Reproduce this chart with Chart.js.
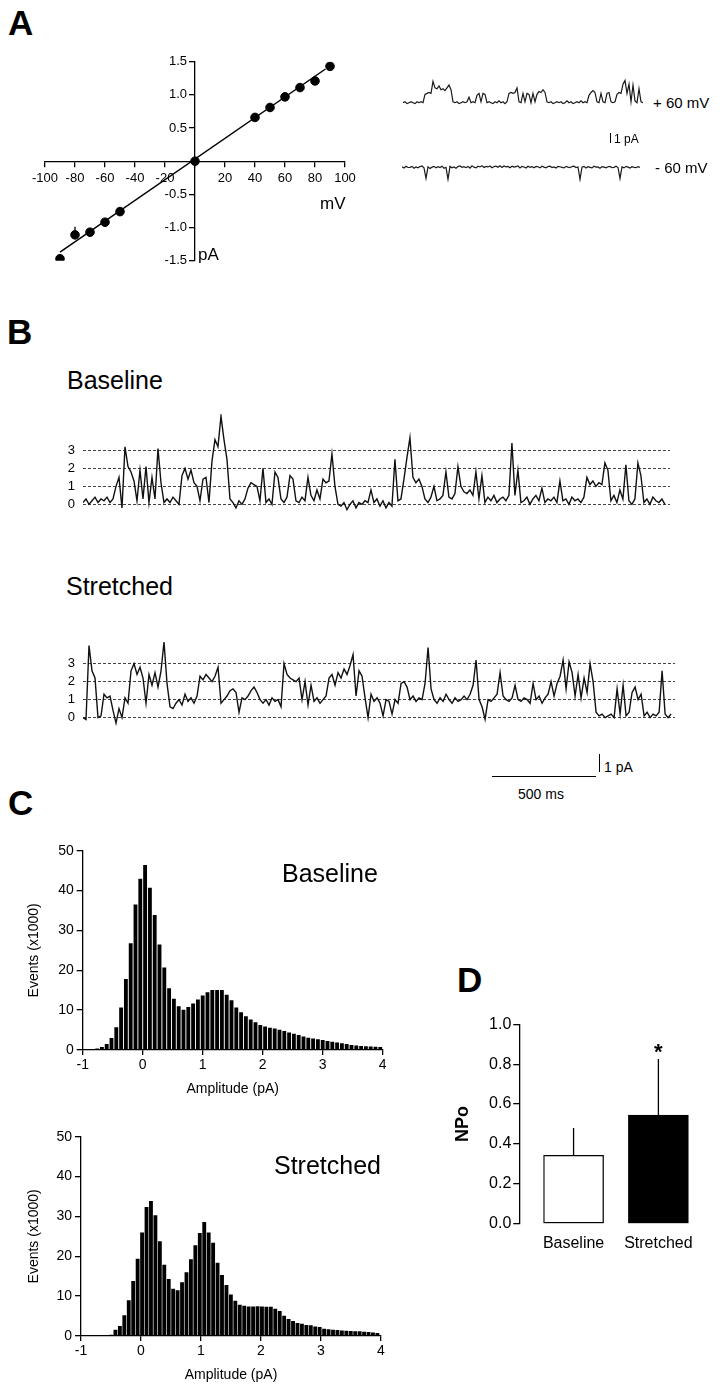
<!DOCTYPE html>
<html>
<head>
<meta charset="utf-8">
<script src="https://cdn.jsdelivr.net/npm/chart.js@4.4.1/dist/chart.umd.min.js"></script>
<style>
  body { margin: 0; background: #fff; }
  #page { position: relative; width: 723px; height: 1393px; overflow: hidden; background: #fff;
          font-family: "Liberation Sans", Arial, sans-serif; color: #000; }
  #page canvas { position: absolute; }
  .txt { position: absolute; line-height: 1; white-space: nowrap; }
  .letter { font-size: 35px; font-weight: bold; }
  .sbar { position: absolute; background: #000; }
</style>
</head>
<body>
<div id="page">
  <div class="txt letter" style="left:8px;top:5px">A</div>
  <div class="txt letter" style="left:7px;top:314px">B</div>
  <div class="txt letter" style="left:8px;top:785px">C</div>
  <div class="txt letter" style="left:457px;top:962px">D</div>

  <canvas id="iv" width="380" height="240" style="left:0;top:40px"></canvas>
  <div class="txt" style="left:320px;top:195px;font-size:17px">mV</div>
  <div class="txt" style="left:198px;top:246px;font-size:17px">pA</div>

  <canvas id="pos60" width="240" height="30" style="left:403px;top:78px"></canvas>
  <canvas id="neg60" width="238" height="21" style="left:402px;top:161px"></canvas>
  <div class="txt" style="left:653px;top:95px;font-size:15px">+ 60 mV</div>
  <div class="txt" style="left:655px;top:160px;font-size:15px">- 60 mV</div>
  <div class="sbar" style="left:610px;top:133px;width:1.3px;height:9.5px"></div>
  <div class="txt" style="left:614px;top:133px;font-size:12px">1 pA</div>

  <div class="txt" style="left:67px;top:368px;font-size:25px">Baseline</div>
  <canvas id="traceBase" width="640" height="108" style="left:40px;top:414px"></canvas>
  <div class="txt" style="left:66px;top:574px;font-size:25px">Stretched</div>
  <canvas id="traceStretch" width="640" height="108" style="left:40px;top:628px"></canvas>
  <div class="sbar" style="left:492px;top:776px;width:104px;height:1.3px"></div>
  <div class="sbar" style="left:598.5px;top:754px;width:1.3px;height:18px"></div>
  <div class="txt" style="left:604px;top:760px;font-size:14px">1 pA</div>
  <div class="txt" style="left:518px;top:787px;font-size:14px">500 ms</div>

  <canvas id="histBase" width="400" height="260" style="left:0;top:840px"></canvas>
  <div class="txt" style="left:282px;top:861px;font-size:25px">Baseline</div>
  <canvas id="histStretch" width="400" height="260" style="left:0;top:1126px"></canvas>
  <div class="txt" style="left:274px;top:1153px;font-size:25px">Stretched</div>

  <canvas id="npo" width="293" height="260" style="left:430px;top:1000px"></canvas>
  <div class="txt" style="left:654px;top:1041px;font-size:22px;font-weight:bold">*</div>
</div>
<script>
// ---- data ----
// A: current-voltage relation
const ivVoltage = [-90, -80, -70, -60, -50, 0, 40, 50, 60, 70, 80, 90];
const ivCurrent = [-1.47, -1.11, -1.07, -0.92, -0.76, 0, 0.66, 0.81, 0.97, 1.11, 1.21, 1.43];
const ivError = [0, 0.12, 0, 0, 0, 0, 0, 0, 0, 0, 0, 0];
const fitVoltage = [-90, 87];
const fitCurrent = [-1.37, 1.39];

// A: example single channel records (pA)
const tracePos60 = [0.0, 0.1, -0.1, 0.0, 0.1, 0.0, -0.1, 0.1, 0.0, 0.1, 0.0,
  0.9, 1.0, 1.1, 1.0, 2.3, 1.6, 1.5, 1.8, 1.4, 1.5, 1.3, 1.6, 1.9, 1.4, 0.1,
  0.0, 0.1, -0.1, 0.0, 0.1, 0.0, 0.1, 0.6, 0.0, 0.1, 0.0, 0.8,
  1.0, 0.1, 1.0, 0.9, 0.0,
  0.1, 0.0, -0.1, 0.1, 0.0, 0.2, 0.0, 0.1, -0.1, 0.1,
  1.0, 1.1, 1.0, 1.1, 1.6, 0.1, 0.0, 1.0, 0.1, 1.0, 0.9, 0.0, 1.0, 0.1, 0.9, 1.2, 1.1, 1.4, 1.1, 0.1,
  0.0, 0.1, -0.1, 0.0, 0.1, 0.0, 0.1, -0.1, 0.0, 0.2, 0.0, 0.1, -0.1, 0.0, 0.1, 0.0, 0.2, 0.0, 0.1, 0.0,
  0.8, 1.1, 1.3, 1.1, 0.1, 0.0, 1.0, 0.1, 0.0, 1.0, 1.1, 0.1, 0.0, 0.1, 0.9, 1.1, 1.0, 2.0, 2.4, 1.0,
  2.0, 0.1, 1.9, 0.2, 0.0, 1.5, 0.1, 0.0];
const traceNeg60 = [0.05, -0.08, 0.12, -0.02, 0.0, 0.1, -0.1, 0.04, -0.06, 0.08, 0.14, -0.05, -1.2,
  0.05, -0.12, 0.02, 0.1, -0.06, 0.06, -0.02, 0.12, -0.1, 0.0, -1.3,
  0.1, -0.05, 0.04, -0.1, 0.08, 0.14, 0.0, 0.06, -0.04, 0.1, -0.08, 0.16, 0.02, -0.06, 0.12, 0.04,
  0.18, -0.02, 0.1, 0.04, 0.14, -0.04, 0.08, 0.12, 0.0, 0.16, -0.02, 0.14, 0.06, 0.1, -0.04, 0.12,
  0.02, 0.08, 0.14, -0.06, 0.1, 0.04, -0.08, 0.12, 0.0, 0.08, -0.04, 0.1, 0.06, -0.06, 0.12, 0.02,
  -0.06, 0.08, 0.12, -0.02, 0.04, -0.08, 0.1, 0.06, 0.0, -0.06, 0.1, 0.02, -0.04, 0.08, 0.12, -0.02,
  0.04, -1.3, 0.02, 0.1, -0.08, 0.06, 0.0, -0.06, 0.12, 0.02, 0.04, -0.1, 0.08, 0.02, -0.06, 0.06,
  0.1, -0.04, 0.0, 0.12, -0.02, -1.2, 0.04, -0.06, 0.1, 0.02, -0.08, 0.06, 0.0, -0.04, 0.08, 0.0];

// B: long records, one sample every 3 px (pA)
const levelTicks = [0, 1, 2, 3];
const baselineTrace = [0.1, 0.3, 0.0, 0.2, 0.4, 0.1, 0.3, 0.2, 0.4, 0.1, 0.3,
  1.0, 1.5, -0.2, 3.2, 2.1, 1.8, 1.3, 0.2, 1.9, 0.3, 2.1, 0.1, 1.5, 0.3, 3.1, 1.2, 0.1,
  0.3, 0.1, 0.4, 0.2, 0.0,
  1.6, 2.0, 1.4, 1.9, 1.2,
  1.0, 0.2, 1.4, 1.5, 0.1,
  2.4, 3.6, 3.2, 4.9, 3.6, 2.5, 0.3,
  0.1, -0.2, 0.2, 0.0, 0.3,
  0.9, 1.2, 1.1, 1.0,
  0.2, 2.0, 0.1, 0.3, 0.0,
  1.8, 1.5,
  0.3, 0.1, 0.4,
  1.6, 1.4,
  0.2, 0.1, 0.4, 0.2,
  1.5,
  0.5, 0.2, 0.8, 0.3,
  1.4, 1.2, 1.3,
  2.8, 1.0, 0.0,
  -0.1, 0.1, -0.3, 0.0, 0.2, -0.2, 0.1, 0.0, 0.2, 0.1, 0.8, 0.1, 0.3, -0.1, 0.2, -0.2,
  0.1, -0.1,
  2.5, 0.2, 0.3,
  1.4, 2.6, 3.7, 1.5, 1.2, 1.4, 1.0,
  0.3, 0.1, 0.4, 1.0, 0.2, 0.3, 0.5, 1.8, 0.4, 0.3, 0.6, 2.1, 1.0,
  0.7, 0.6, 0.8, 0.5, 1.8, 0.3,
  1.6, 0.1, 0.4, 0.2, 0.5, 0.1, 0.3, 0.4, 0.2, 0.5,
  3.4, 0.5, 1.9, 0.1,
  0.2, 0.4, 0.0, 0.3, 0.5, 0.2, 0.9, 0.1, 0.3, 0.2, 0.4, 0.1, 1.3, 0.2, 0.3, 0.0, 0.4, 0.2, 0.3, 0.1, 0.4,
  1.5, 1.1, 1.3, 1.0, 1.2,
  1.1, 2.3, 1.9,
  0.2, 0.5, 0.1, 0.8, 0.3, 2.2,
  0.2, 0.0, 0.3,
  2.3, 1.6,
  0.1, 0.3, 0.0, 0.4, 0.2, 0.1, 0.3, 0.0];
const stretchedTrace = [0.0, -0.1, 4.0, 2.6, 2.2, 0.0, 0.1, 1.3, 1.1, 1.2, 0.4, -0.3, 0.5, 0.0,
  1.1, 0.8, 2.6, 3.0, 2.4, 2.8, 2.2, 0.8, 2.4, 1.8, 2.5, 1.7, 2.6, 4.2, 1.9, 0.6, 0.5, 0.8,
  1.0, 0.7, 1.3, 0.9, 1.1, 0.8, 1.2, 2.3, 2.1, 2.4, 2.2, 2.0, 2.3, 2.8, 0.8, 1.0, 1.2, 1.5,
  1.6, 1.4, 0.3, 1.1, 1.0, 1.2, 1.5, 1.7, 1.4, 1.0, 0.8, 1.0, 0.7, 1.1, 0.9, 1.0, 0.6, 3.0,
  2.4, 2.2, 2.1, 2.0, 2.2, 1.0, 2.0, 0.7, 1.8, 0.9, 1.1, 0.8, 1.0, 1.2, 2.2, 2.4, 1.8, 2.5,
  2.2, 2.7, 2.4, 2.9, 3.5, 1.2, 2.6, 2.3, 1.1, 0.0, 1.3, 0.9, 1.1, 0.8, 0.1, 1.0, 0.9, 0.2,
  1.0, 0.8, 1.9, 2.0, 1.7, 1.0, 1.2, 0.9, 1.1, 1.0, 1.9, 3.9, 1.6, 1.0, 0.8, 1.1, 0.9, 1.3,
  1.0, 0.8, 1.1, 0.9, 1.0, 1.2, 1.0, 1.3, 1.8, 3.2, 1.0, 0.6, -0.1, 1.0, 0.9, 1.1, 1.3, 2.5,
  1.2, 1.0, 0.9, 1.1, 1.8, 1.0, 0.9, 1.1, 1.0, 0.8, 1.9, 1.0, 1.2, 0.8, 1.1, 1.3, 2.0, 1.2,
  1.9, 2.3, 3.2, 1.6, 3.1, 2.5, 1.2, 2.4, 1.1, 2.2, 1.4, 3.0, 2.0, 0.3, 0.1, 0.2, 0.0, 0.1,
  0.2, 0.0, 1.6, 0.2, 1.8, 0.1, 0.3, 1.4, 1.7, 1.0, 1.3, 0.1, 0.3, 0.0, 0.2, 0.1, 0.3, 2.6,
  0.2, 0.0, 0.2];

// C: all-points amplitude histograms (events x1000)
const histBaselineStart = -0.92;
const histBaselineBin = 0.08;
const histBaseline = [0.05, 0.1, 0.3, 0.7, 1.4, 2.9, 5.6, 10.6, 17.7, 26.7, 36.4, 42.9, 46.3,
  40.6, 33.8, 26.4, 20.6, 15.4, 12.8, 10.9, 10.0, 10.7, 11.6, 12.6, 13.6, 14.4,
  15.0, 15.0, 15.0, 13.8, 12.4, 10.6, 9.4, 8.4, 7.6, 6.9, 6.2, 5.8, 5.5, 5.3, 5.0, 4.7,
  4.3, 4.0, 3.7, 3.3, 3.0, 2.8, 2.6, 2.4, 2.2, 2.0, 1.8, 1.6, 1.4, 1.2, 1.05, 0.95,
  0.85, 0.8, 0.75, 0.65];
const histStretchedStart = -0.5;
const histStretchedBin = 0.074;
const histStretched = [0.25, 1.5, 2.4, 5.1, 8.9, 13.7, 19.3, 25.9, 32.3, 33.8, 30.2, 23.7,
  17.8, 14.2, 11.75, 11.4, 13.4, 15.9, 19.2, 22.7, 25.75, 28.5, 25.9, 23.3, 18.3, 15.2,
  12.7, 10.3, 8.75, 7.75, 7.5, 7.3, 7.3, 7.4, 7.3, 7.25, 7.25, 6.75, 6.2, 5.0, 4.2, 3.7,
  3.2, 3.0, 2.7, 2.6, 2.3, 2.2, 1.75, 1.6, 1.5, 1.4, 1.3, 1.25, 1.2, 1.1, 1.1, 1.0, 0.9,
  0.8, 0.7];

// D: open probability
const npoGroups = ['Baseline', 'Stretched'];
const npoMean = [0.343, 0.545];
const npoSem = [0.137, 0.281];

// ---- common setup ----
Chart.defaults.font.family = '"Liberation Sans", Arial, sans-serif';
Chart.defaults.color = '#000';
Chart.defaults.animation = false;
Chart.defaults.responsive = false;
Chart.defaults.plugins.legend.display = false;
Chart.defaults.plugins.tooltip.enabled = false;

const axisLine = { color: '#000', width: 1.3 };

// error bars drawn upward only, like the original
const upErrorBars = {
  id: 'upErrorBars',
  afterDatasetsDraw(chart, args, opts) {
    const ctx = chart.ctx;
    const xs = chart.scales.x, ys = chart.scales.y;
    ctx.save();
    ctx.strokeStyle = '#000';
    ctx.lineWidth = 1.3;
    opts.means.forEach((m, i) => {
      if (!opts.errs[i]) return;
      const px = opts.xs ? xs.getPixelForValue(opts.xs[i]) : chart.getDatasetMeta(0).data[i].x;
      ctx.beginPath();
      ctx.moveTo(px, ys.getPixelForValue(m));
      ctx.lineTo(px, ys.getPixelForValue(m + opts.errs[i]));
      ctx.stroke();
    });
    ctx.restore();
  }
};

// ---- A: I-V plot ----
new Chart(document.getElementById('iv'), {
  type: 'scatter',
  data: {
    datasets: [
      {
        type: 'line',
        data: fitVoltage.map((v, i) => ({ x: v, y: fitCurrent[i] })),
        borderColor: '#000', borderWidth: 1.5, pointRadius: 0, order: 2
      },
      {
        data: ivVoltage.map((v, i) => ({ x: v, y: ivCurrent[i] })),
        backgroundColor: '#000', borderColor: '#000', pointRadius: 4.3, order: 1
      }
    ]
  },
  options: {
    layout: { padding: { left: 45, right: 35, top: 21.7, bottom: 19.3 } },
    plugins: { upErrorBars: { means: ivCurrent, errs: ivError, xs: ivVoltage } },
    scales: {
      x: {
        type: 'linear', position: 'center', min: -100, max: 100,
        ticks: { stepSize: 20, padding: 4, maxRotation: 0, autoSkip: false, font: { size: 13 },
                 callback: v => v === 0 ? '' : v },
        grid: { drawOnChartArea: false, tickLength: 5, color: '#000', lineWidth: 1.3 },
        border: axisLine
      },
      y: {
        type: 'linear', position: 'center', min: -1.5, max: 1.5,
        ticks: { stepSize: 0.5, padding: 3, font: { size: 13 },
                 callback: v => v === 0 ? '' : v.toFixed(1) },
        grid: { drawOnChartArea: false, tickLength: 5, color: '#000', lineWidth: 1.3 },
        border: axisLine
      }
    }
  },
  plugins: [upErrorBars]
});

// ---- A: short records ----
function smallTrace(id, values, yMin, yMax) {
  new Chart(document.getElementById(id), {
    type: 'line',
    data: { datasets: [{ data: values.map((v, i) => ({ x: i, y: v })),
                         borderColor: '#1a1a1a', borderWidth: 1.2, pointRadius: 0 }] },
    options: {
      scales: {
        x: { type: 'linear', display: false, min: 0, max: values.length - 1 },
        y: { display: false, min: yMin, max: yMax }
      }
    }
  });
}
smallTrace('pos60', tracePos60, -0.57, 2.66);
smallTrace('neg60', traceNeg60, -1.58, 0.68);

// ---- B: long records with level lines ----
function longTrace(id, values, yMin, yMax, xMax, padRight) {
  new Chart(document.getElementById(id), {
    type: 'line',
    data: { datasets: [{ data: values.map((v, i) => ({ x: i, y: v })),
                         borderColor: '#111', borderWidth: 1.4, pointRadius: 0 }] },
    options: {
      layout: { padding: { right: padRight } },
      scales: {
        x: { type: 'linear', display: false, min: 0, max: xMax },
        y: {
          min: yMin, max: yMax,
          afterFit: s => { s.width = 43; s.paddingTop = 0; s.paddingBottom = 0; },
          afterBuildTicks: s => { s.ticks = levelTicks.map(v => ({ value: v })); },
          ticks: { padding: 8, font: { size: 13 } },
          grid: { drawTicks: false, color: '#444', lineWidth: 1 },
          border: { display: false, dash: [3, 2] }
        }
      }
    }
  });
}
longTrace('traceBase', baselineTrace, -0.98, 5.02, 195.7, 10);
longTrace('traceStretch', stretchedTrace, -1.02, 4.98, 197.3, 5);

// ---- C: histograms ----
function histChart(id, values, start, bin, axisWidth, padRight) {
  new Chart(document.getElementById(id), {
    type: 'bar',
    data: { datasets: [{ data: values.map((v, i) => ({ x: start + i * bin, y: v })),
                         backgroundColor: '#000', barThickness: 3.2 }] },
    options: {
      layout: { padding: { top: 10.7, right: padRight } },
      scales: {
        x: {
          type: 'linear', min: -1, max: 4, offset: false,
          afterFit: s => { s.height = 50; },
          ticks: { stepSize: 1, padding: 2, maxRotation: 0, font: { size: 14 } },
          grid: { offset: false, drawOnChartArea: false, tickLength: 5, color: '#000', lineWidth: 1.3 },
          border: axisLine,
          title: { display: true, text: 'Amplitude (pA)', font: { size: 14 }, padding: { top: 0, bottom: 2 } }
        },
        y: {
          min: 0, max: 50,
          afterFit: s => { s.width = axisWidth; s.paddingTop = 0; },
          ticks: { stepSize: 10, padding: 3, font: { size: 14 } },
          grid: { drawOnChartArea: false, tickLength: 6, color: '#000', lineWidth: 1.3 },
          border: axisLine,
          title: { display: true, text: 'Events (x1000)', font: { size: 14 }, padding: { top: 26, bottom: 0 } }
        }
      }
    }
  });
}
histChart('histBase', histBaseline, histBaselineStart, histBaselineBin, 82.7, 17.3);
histChart('histStretch', histStretched, histStretchedStart, histStretchedBin, 81, 19);

// ---- D: NPo bars ----
new Chart(document.getElementById('npo'), {
  type: 'bar',
  data: {
    datasets: [{
      data: npoMean.map((v, i) => ({ x: i + 1, y: v })),
      backgroundColor: ['#fff', '#000'], borderColor: '#000', borderWidth: 1.3,
      borderSkipped: false, barThickness: 60
    }]
  },
  options: {
    layout: { padding: { top: 24.3, right: 22.2 } },
    plugins: { upErrorBars: { means: npoMean, errs: npoSem } },
    scales: {
      x: {
        type: 'linear', min: 0.36, max: 2.5, offset: false,
        afterFit: s => { s.height = 36.3; },
        afterBuildTicks: s => { s.ticks = npoGroups.map((g, i) => ({ value: i + 1 })); },
        ticks: { padding: 10, maxRotation: 0, font: { size: 16 }, callback: (v, i) => npoGroups[i] },
        grid: { display: false, drawTicks: false, offset: false },
        border: { display: false }
      },
      y: {
        min: 0, max: 1,
        afterFit: s => { s.width = 89.3; s.paddingTop = 0; },
        ticks: { stepSize: 0.2, padding: 2, font: { size: 16 }, callback: v => v.toFixed(1) },
        grid: { drawOnChartArea: false, tickLength: 6, color: '#000', lineWidth: 1.3 },
        border: axisLine,
        title: { display: true, text: 'NPo', font: { size: 18, weight: 'bold' }, padding: { top: 22.7, bottom: 0 } }
      }
    }
  },
  plugins: [upErrorBars]
});
</script>
</body>
</html>
